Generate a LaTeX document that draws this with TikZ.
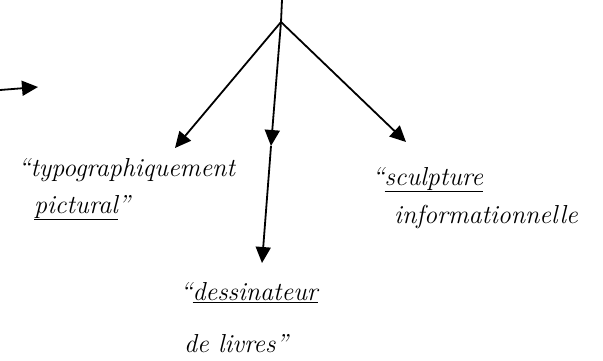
\documentclass[tikz,border=0pt]{standalone}
\usetikzlibrary{arrows.meta}
\tikzset{fleche/.style={line width=1.8pt,-{Triangle[length=16pt,width=15pt]}},
  mot/.style={font=\fontsize{26}{31}\selectfont\itshape,anchor=north west,align=left,inner sep=0pt}}
\begin{document}
\begin{tikzpicture}[x=1pt,y=-1pt]
  \useasboundingbox (0,0) rectangle (603,360);
  % tronc et fourche
  \coordinate (haut) at (282,0);
  \coordinate (fourche) at (281,22);
  \coordinate (finG) at (175,148);
  \coordinate (milieu) at (271,146);
  \coordinate (finM) at (262,263);
  \coordinate (finD) at (406,142);
  \coordinate (debut) at (0,90);
  \coordinate (pointe) at (38,87);
  % les trois textes
  \node[mot] (typo) at (18,158) {``typographiquement\\[6pt]\hspace*{16pt}\underline{pictural}''};
  \node[mot] (sculpt) at (372,167) {``\underline{sculpture}\\[7pt]\hspace*{22pt}informationnelle};
  \node[mot] (dessin) at (180,282) {``\underline{dessinateur}\\[21pt]\hspace*{4pt}de livres''};
  % fleches
  \draw[line width=1.8pt] (haut) -- (fourche);
  \draw[fleche] (fourche) -- (finG);
  \draw[fleche] (fourche) -- (milieu);
  \draw[fleche] (milieu) -- (finM);
  \draw[fleche] (fourche) -- (finD);
  \draw[fleche] (debut) -- (pointe);
\end{tikzpicture}
\end{document}
